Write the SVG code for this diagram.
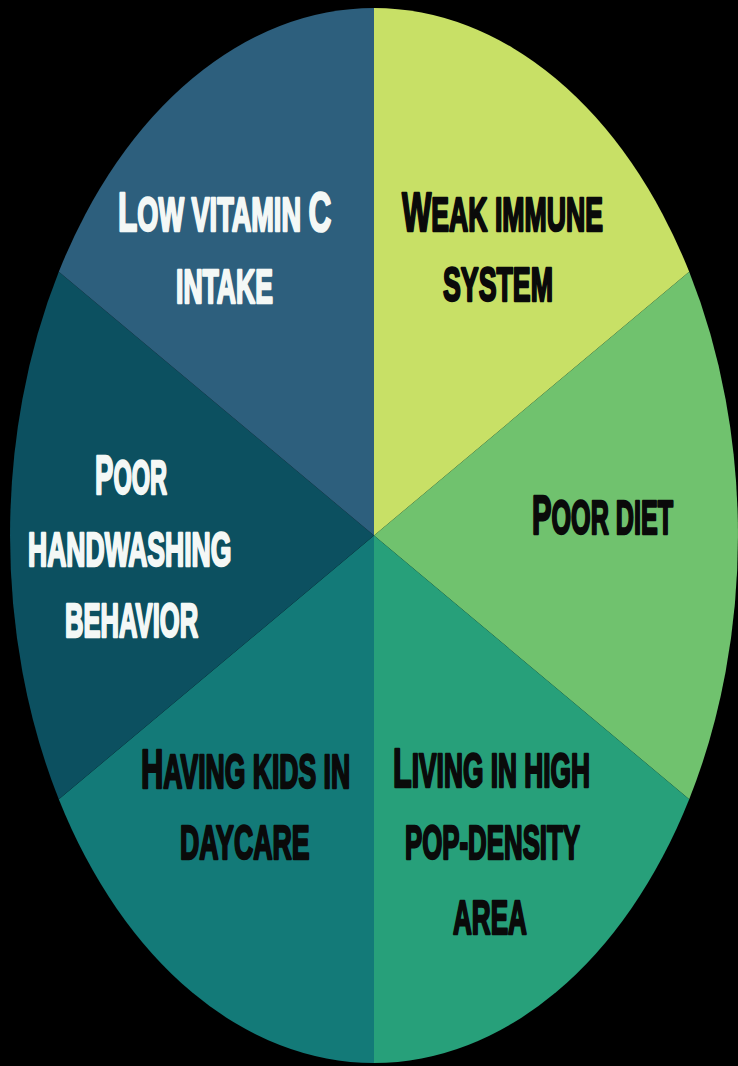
<svg xmlns="http://www.w3.org/2000/svg" width="738" height="1066" viewBox="0 0 738 1066">
<style>
.lbl{font-family:"Liberation Sans",Arial,sans-serif;font-weight:bold;font-size:48px;stroke-width:2.5;stroke-linejoin:round}
.big{font-size:56px}
.w{fill:#f4f8f6;stroke:#f4f8f6}
.k{fill:#0a0a0a;stroke:#0a0a0a}
</style>
<rect x="0" y="0" width="738" height="1066" fill="#000"/>
<g id="weak-immune-system">
<path d="M374 535.5 L374 8 A364 527.5 0 0 1 689.2 271.75 Z" fill="#c8e066"/>
<text class="lbl k" transform="translate(402 231) scale(0.555 1)"><tspan class="big">W</tspan>EAK IMMUNE</text>
<text class="lbl k" transform="translate(443 301) scale(0.557 1)">SYSTEM</text>
</g>
<g id="poor-diet">
<path d="M374 535.5 L689.2 271.75 A364 527.5 0 0 1 689.2 799.25 Z" fill="#70c26e"/>
<text class="lbl k" transform="translate(532 534) scale(0.524 1)"><tspan class="big">P</tspan>OOR DIET</text>
</g>
<g id="living-high-density">
<path d="M374 535.5 L689.2 799.25 A364 527.5 0 0 1 374 1063 Z" fill="#27a07a"/>
<text class="lbl k" transform="translate(393 787) scale(0.548 1)"><tspan class="big">L</tspan>IVING IN HIGH</text>
<text class="lbl k" transform="translate(405 859) scale(0.538 1)">POP-DENSITY</text>
<text class="lbl k" transform="translate(453 934) scale(0.544 1)">AREA</text>
</g>
<g id="kids-in-daycare">
<path d="M374 535.5 L374 1063 A364 527.5 0 0 1 58.8 799.25 Z" fill="#137a78"/>
<text class="lbl k" transform="translate(141 788) scale(0.553 1)"><tspan class="big">H</tspan>AVING KIDS IN</text>
<text class="lbl k" transform="translate(180 859) scale(0.556 1)">DAYCARE</text>
</g>
<g id="poor-handwashing">
<path d="M374 535.5 L58.8 799.25 A364 527.5 0 0 1 58.8 271.75 Z" fill="#0c5060"/>
<text class="lbl w" transform="translate(95 494) scale(0.492 1)"><tspan class="big">P</tspan>OOR</text>
<text class="lbl w" transform="translate(28 566) scale(0.553 1)">HANDWASHING</text>
<text class="lbl w" transform="translate(65 637) scale(0.533 1)">BEHAVIOR</text>
</g>
<g id="low-vitamin-c">
<path d="M374 535.5 L58.8 271.75 A364 527.5 0 0 1 374 8 Z" fill="#2d5f7d"/>
<text class="lbl w" transform="translate(118 231) scale(0.565 1)"><tspan class="big">L</tspan>OW VITAMIN <tspan class="big">C</tspan></text>
<text class="lbl w" transform="translate(176 303) scale(0.554 1)">INTAKE</text>
</g>
</svg>
